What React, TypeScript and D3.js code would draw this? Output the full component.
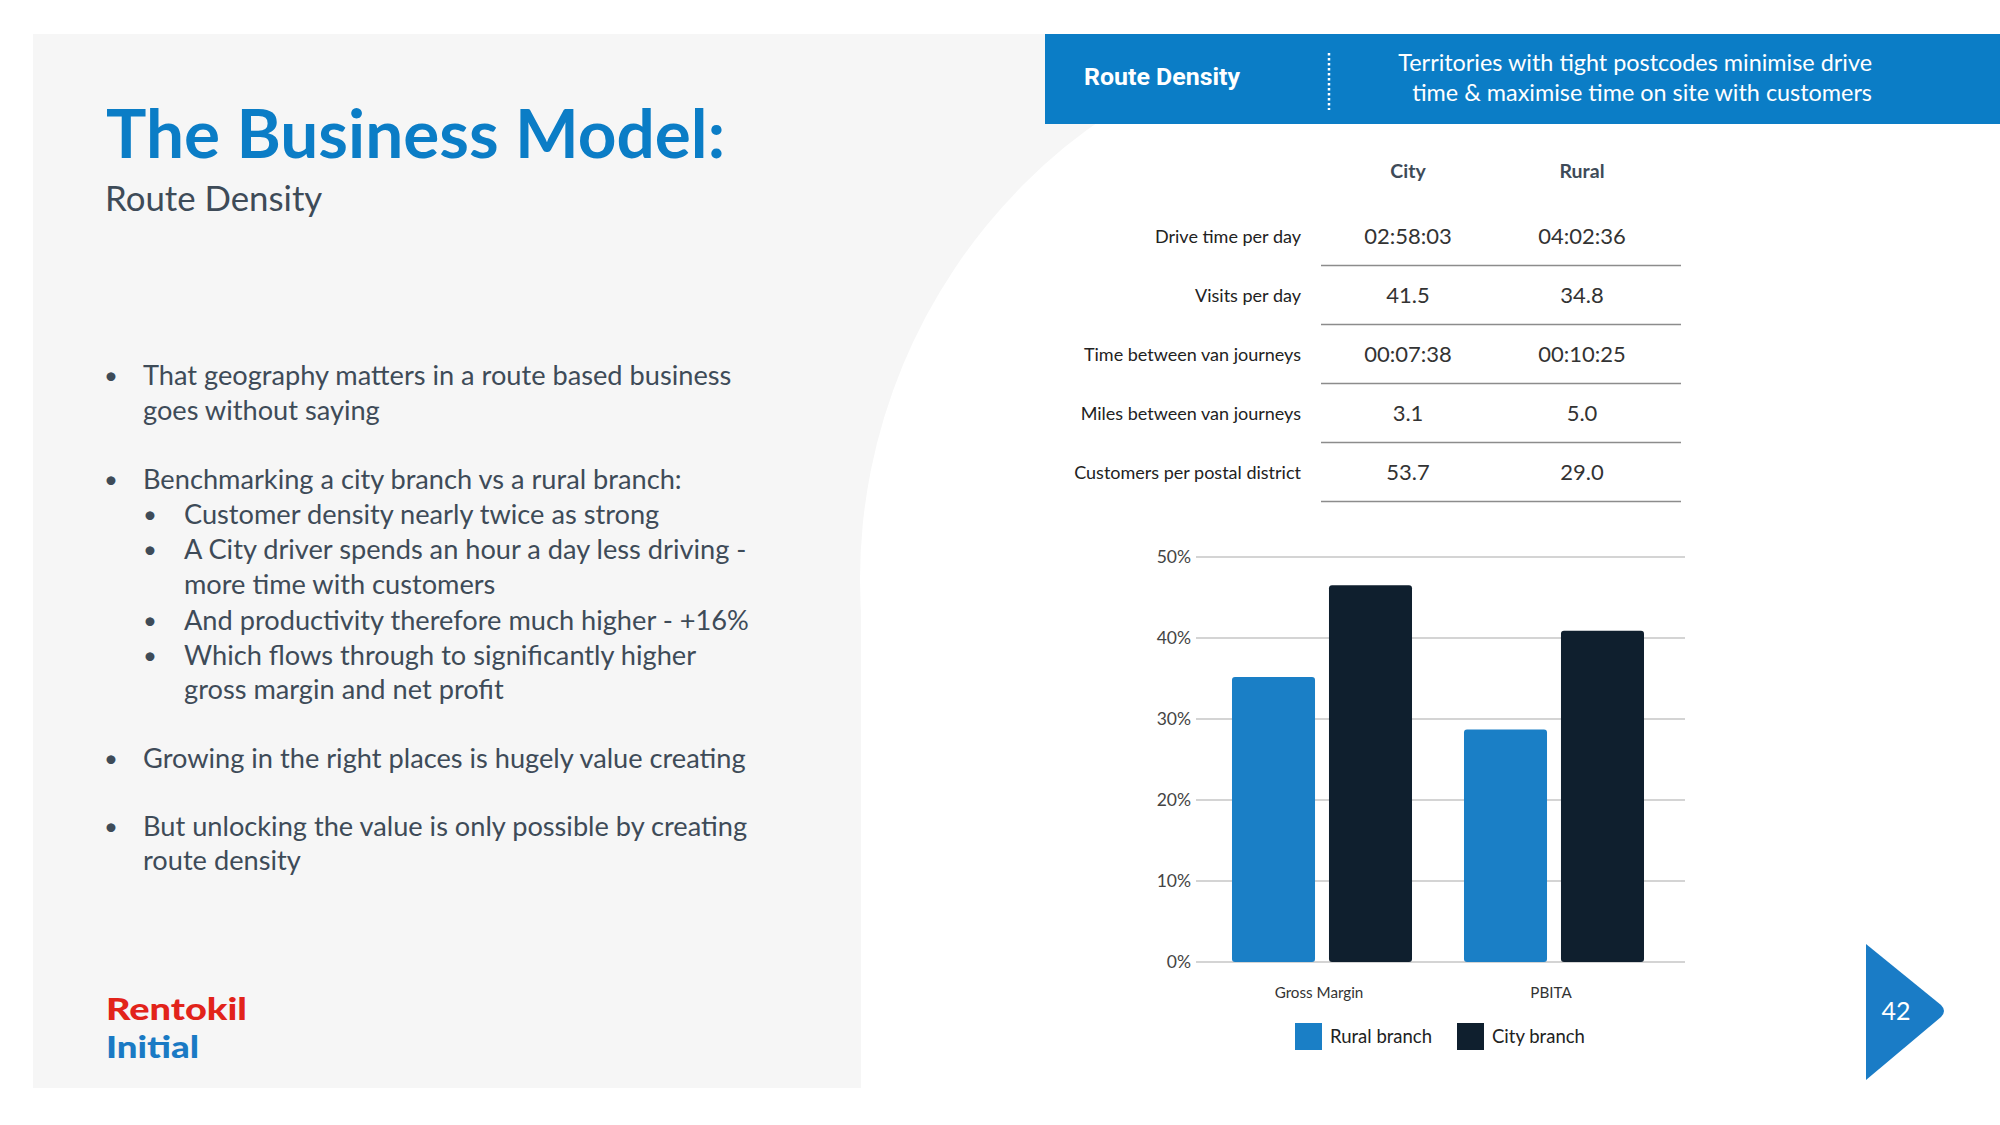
import React from "react";
import * as d3 from "d3";

// ---------- data ----------
const categories = ["Gross Margin", "PBITA"];
const seriesNames = ["Rural branch", "City branch"];
const ruralValues = [35.2, 28.7];
const cityValues = [46.5, 40.9];
const yTicks = [0, 10, 20, 30, 40, 50];

const tableHeaders = ["City", "Rural"];
const tableRows = [
  "Drive time per day",
  "Visits per day",
  "Time between van journeys",
  "Miles between van journeys",
  "Customers per postal district",
];
const cityColumn = ["02:58:03", "41.5", "00:07:38", "3.1", "53.7"];
const ruralColumn = ["04:02:36", "34.8", "00:10:25", "5.0", "29.0"];

const bullets: { text: string; level: number; y: number }[] = [
  { text: "That geography matters in a route based business", level: 1, y: 376 },
  { text: "goes without saying", level: 0, y: 411 },
  { text: "Benchmarking a city branch vs a rural branch:", level: 1, y: 480 },
  { text: "Customer density nearly twice as strong", level: 2, y: 515 },
  { text: "A City driver spends an hour a day less driving -", level: 2, y: 550 },
  { text: "more time with customers", level: 3, y: 585 },
  { text: "And productivity therefore much higher - +16%", level: 2, y: 621 },
  { text: "Which flows through to significantly higher", level: 2, y: 656 },
  { text: "gross margin and net profit", level: 3, y: 690 },
  { text: "Growing in the right places is hugely value creating", level: 1, y: 759 },
  { text: "But unlocking the value is only possible by creating", level: 1, y: 827 },
  { text: "route density", level: 0, y: 861 },
];

// ---------- styles ----------
const BLUE = "#0b7dc6";
const RURAL = "#1a7fc6";
const CITY = "#0f1f2e";
const TEXT = "#3e4b58";
const FONT = "Lato, 'Open Sans', sans-serif";

export default function App() {
  const W = 2000;
  const H = 1125;

  // chart scales
  const y = d3.scaleLinear().domain([0, 50]).range([962, 557]);
  const x0 = d3.scaleBand<string>().domain(categories).range([1206, 1670]).paddingInner(0).paddingOuter(0);
  const x1 = d3.scaleBand<string>().domain(seriesNames).range([0, x0.bandwidth()]).paddingInner(0.144).paddingOuter(0.268);
  const values = [ruralValues, cityValues];
  const colors = d3.scaleOrdinal<string, string>().domain(seriesNames).range([RURAL, CITY]);

  // table scales
  const rowY = d3.scaleLinear().domain([0, 1]).range([236, 295]);
  const colX = d3.scaleOrdinal<string, number>().domain(tableHeaders).range([1408, 1582]);

  const circle = { cx: 1420, cy: 580, r: 560 };

  return (
    <svg width={W} height={H} style={{ position: "absolute", left: 0, top: 0, background: "#fff" }} fontFamily={FONT}>
      {/* background panel */}
      <rect x={0} y={0} width={W} height={H} fill="#ffffff" />
      <rect x={33} y={34} width={828} height={1054} fill="#f6f6f6" />
      <rect x={860} y={34} width={440} height={546} fill="#f6f6f6" />
      <circle cx={circle.cx} cy={circle.cy} r={circle.r} fill="#ffffff" />

      {/* title */}
      <text x={106} y={158} fontSize={67.5} fontWeight={700} fill={BLUE} fontFamily={FONT}>
        The Business Model:
      </text>
      <text x={105} y={211} fontSize={34.8} fill={TEXT}>
        Route Density
      </text>

      {/* bullets */}
      {bullets.map((b, i) => {
        const textX = b.level === 2 || b.level === 3 ? 184 : 143;
        const dotX = b.level === 2 ? 150 : 111;
        return (
          <g key={i}>
            {(b.level === 1 || b.level === 2) && (
              <text x={dotX} y={b.y + 8} fontSize={24} fill={TEXT} textAnchor="middle">
                •
              </text>
            )}
            <text x={textX} y={b.y + 9} fontSize={27.2} fill={TEXT}>
              {b.text}
            </text>
          </g>
        );
      })}

      {/* logo */}
      <text x={106} y={1020} fontSize={31} fontWeight={900} fill="#e2231a" textLength={141} lengthAdjust="spacingAndGlyphs">
        Rentokil
      </text>
      <text x={106} y={1058} fontSize={31} fontWeight={900} fill="#1a7ac4" textLength={93} lengthAdjust="spacingAndGlyphs">
        Initial
      </text>

      {/* header banner */}
      <rect x={1045} y={34} width={955} height={90} fill={BLUE} />
      <text x={1084} y={85} fontSize={23} fontWeight={700} fill="#fff" fontFamily="Roboto, sans-serif" textLength={156} lengthAdjust="spacingAndGlyphs">
        Route Density
      </text>
      <line x1={1329} x2={1329} y1={53} y2={110} stroke="#fff" strokeWidth={2.5} strokeDasharray="2.5 2.5" />
      <text x={1872} y={71} fontSize={23.4} fill="#fff" textAnchor="end">
        Territories with tight postcodes minimise drive
      </text>
      <text x={1872} y={101} fontSize={23.4} fill="#fff" textAnchor="end">
        time &amp; maximise time on site with customers
      </text>

      {/* table */}
      {tableHeaders.map((h) => (
        <text key={h} x={colX(h)} y={178} fontSize={19.5} fontWeight={700} fill={TEXT} textAnchor="middle">
          {h}
        </text>
      ))}
      {tableRows.map((r, i) => (
        <g key={r}>
          <text x={1301} y={rowY(i) + 7} fontSize={18} fill="#222" textAnchor="end">
            {r}
          </text>
          <text x={colX("City")} y={rowY(i) + 7.5} fontSize={22} fill="#333" textAnchor="middle">
            {cityColumn[i]}
          </text>
          <text x={colX("Rural")} y={rowY(i) + 7.5} fontSize={22} fill="#333" textAnchor="middle">
            {ruralColumn[i]}
          </text>
          <line x1={1321} x2={1681} y1={rowY(i) + 29.5} y2={rowY(i) + 29.5} stroke="#8c8c8c" strokeWidth={1.6} />
        </g>
      ))}

      {/* chart gridlines */}
      {yTicks.map((t) => (
        <g key={t}>
          <line x1={1196} x2={1685} y1={y(t)} y2={y(t)} stroke="#c6c6c6" strokeWidth={1.6} />
          <text x={1191} y={y(t) + 6} fontSize={17.5} fill="#444" textAnchor="end">
            {`${t}%`}
          </text>
        </g>
      ))}

      {/* bars */}
      {categories.map((c, ci) => (
        <g key={c} transform={`translate(${x0(c)},0)`}>
          {seriesNames.map((s, si) => {
            const v = values[si][ci];
            return (
              <rect
                key={s}
                x={x1(s)}
                y={y(v)}
                width={x1.bandwidth()}
                height={y(0) - y(v)}
                rx={3}
                fill={colors(s)}
              />
            );
          })}
          <text x={x0.bandwidth() / 2 - 3} y={998} fontSize={15.2} fill="#333" textAnchor="middle">
            {c}
          </text>
        </g>
      ))}

      {/* legend */}
      {seriesNames.map((s, i) => {
        const lx = [1295, 1457][i];
        return (
          <g key={s}>
            <rect x={lx} y={1023} width={27} height={27} fill={colors(s)} />
            <text x={lx + 35} y={1043} fontSize={18.5} fill="#222">
              {s}
            </text>
          </g>
        );
      })}

      {/* page number */}
      <path d="M1866,944 L1941,1005 Q1947,1011 1941,1017 L1866,1080 Z" fill="#1a7cc6" />
      <text x={1896} y={1020} fontSize={25} fill="#fff" textAnchor="middle">
        42
      </text>
    </svg>
  );
}
